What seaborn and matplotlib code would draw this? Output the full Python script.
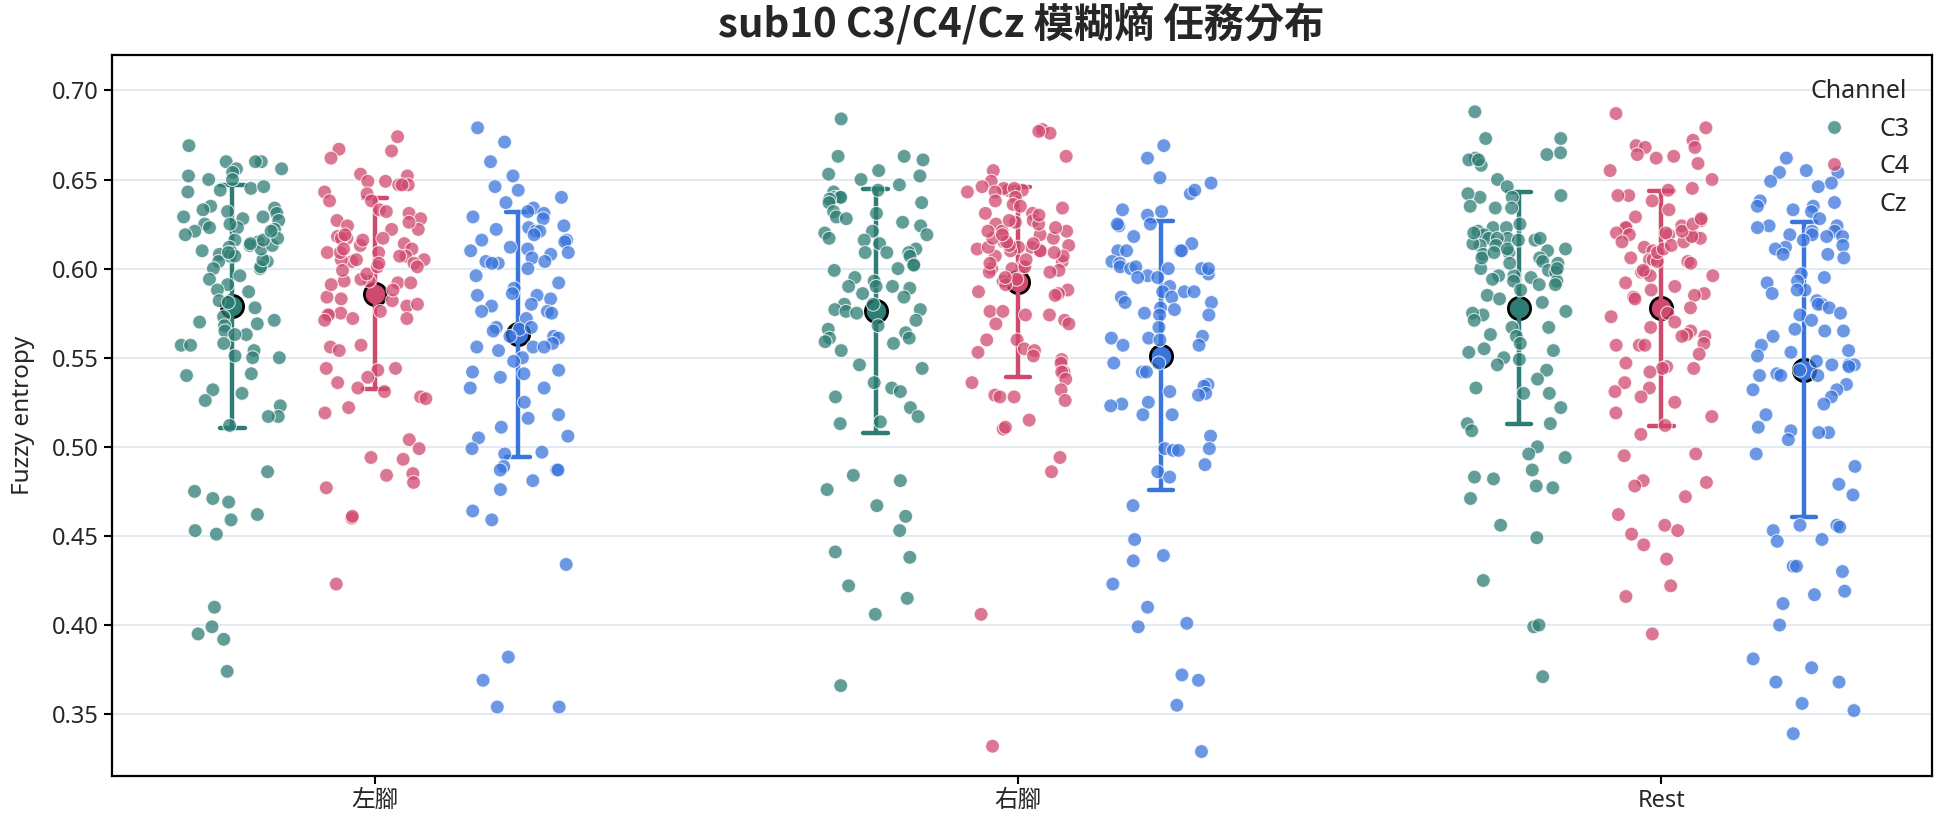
import numpy as np
import pandas as pd
import matplotlib
matplotlib.use("Agg")
import matplotlib.pyplot as plt
import seaborn as sns

# ── data (second lines = points hidden in the dense cores) ──

tasks = ["左腳", "右腳", "Rest"]
channels = ["C3", "C4", "Cz"]
colors = ["#2e7d74", "#d04a6e", "#3a75db"]

left_c3 = [0.669, 0.660, 0.660, 0.660, 0.656, 0.656, 0.654, 0.652, 0.650, 0.650, 0.645, 0.646,
           0.644, 0.643, 0.635, 0.634, 0.633, 0.632, 0.631, 0.629, 0.628, 0.627, 0.625, 0.623,
           0.622, 0.621, 0.616, 0.615, 0.613, 0.612, 0.610, 0.609, 0.608, 0.607, 0.604, 0.604,
           0.600, 0.600, 0.596, 0.594, 0.591, 0.588, 0.587, 0.582, 0.581, 0.578, 0.573, 0.571,
           0.570, 0.569, 0.568, 0.565, 0.563, 0.563, 0.558, 0.557, 0.557, 0.554, 0.551, 0.550,
           0.550, 0.541, 0.540, 0.532, 0.530, 0.526, 0.523, 0.517, 0.517, 0.512, 0.486, 0.475,
           0.471, 0.469, 0.462, 0.459, 0.453, 0.451, 0.410, 0.399, 0.395, 0.392, 0.374,
           0.601, 0.605, 0.607, 0.609, 0.611, 0.613, 0.614, 0.616, 0.617, 0.619, 0.621, 0.623,
           0.625, 0.629]
left_c4 = [0.674, 0.667, 0.666, 0.662, 0.653, 0.652, 0.649, 0.649, 0.647, 0.647, 0.647, 0.643,
           0.642, 0.638, 0.638, 0.633, 0.632, 0.631, 0.628, 0.627, 0.624, 0.622, 0.618, 0.617,
           0.617, 0.617, 0.614, 0.611, 0.609, 0.609, 0.607, 0.605, 0.604, 0.605, 0.603, 0.601,
           0.593, 0.593, 0.592, 0.592, 0.583, 0.582, 0.579, 0.576, 0.575, 0.574, 0.572, 0.572,
           0.574, 0.571, 0.557, 0.556, 0.554, 0.544, 0.543, 0.544, 0.539, 0.536, 0.533, 0.531,
           0.528, 0.527, 0.522, 0.519, 0.504, 0.499, 0.494, 0.493, 0.485, 0.484, 0.480, 0.477,
           0.460, 0.461, 0.423,
           0.580, 0.584, 0.588, 0.591, 0.594, 0.597, 0.599, 0.601, 0.603, 0.605, 0.607, 0.609,
           0.611, 0.613, 0.616, 0.619, 0.622, 0.626]
left_cz = [0.679, 0.671, 0.660, 0.652, 0.646, 0.644, 0.640, 0.637, 0.634, 0.632, 0.631, 0.629,
           0.628, 0.624, 0.623, 0.622, 0.621, 0.621, 0.619, 0.616, 0.616, 0.615, 0.612, 0.611,
           0.610, 0.609, 0.608, 0.606, 0.604, 0.604, 0.603, 0.603, 0.600, 0.596, 0.592, 0.589,
           0.586, 0.585, 0.585, 0.583, 0.580, 0.579, 0.576, 0.576, 0.575, 0.572, 0.567, 0.566,
           0.567, 0.565, 0.562, 0.562, 0.561, 0.558, 0.556, 0.556, 0.554, 0.556, 0.550, 0.548,
           0.543, 0.542, 0.541, 0.539, 0.533, 0.533, 0.525, 0.518, 0.516, 0.511, 0.506, 0.505,
           0.499, 0.497, 0.496, 0.489, 0.487, 0.487, 0.487, 0.481, 0.476, 0.464, 0.459, 0.434,
           0.382, 0.369, 0.354, 0.354]
right_c3 = [0.684, 0.663, 0.663, 0.661, 0.655, 0.653, 0.652, 0.650, 0.647, 0.644, 0.643, 0.640,
            0.640, 0.640, 0.639, 0.637, 0.637, 0.632, 0.631, 0.629, 0.628, 0.626, 0.624, 0.621,
            0.620, 0.619, 0.617, 0.616, 0.614, 0.611, 0.609, 0.609, 0.609, 0.607, 0.602, 0.602,
            0.600, 0.599, 0.595, 0.593, 0.590, 0.589, 0.590, 0.590, 0.586, 0.584, 0.580, 0.580,
            0.577, 0.576, 0.577, 0.575, 0.571, 0.568, 0.566, 0.564, 0.561, 0.561, 0.559, 0.558,
            0.554, 0.546, 0.544, 0.536, 0.533, 0.531, 0.528, 0.522, 0.517, 0.513, 0.514, 0.484,
            0.481, 0.476, 0.467, 0.461, 0.453, 0.441, 0.438, 0.422, 0.415, 0.406, 0.366]
right_c4 = [0.678, 0.676, 0.677, 0.663, 0.655, 0.649, 0.646, 0.644, 0.644, 0.645, 0.645, 0.643,
            0.643, 0.640, 0.638, 0.636, 0.634, 0.631, 0.631, 0.627, 0.625, 0.626, 0.621, 0.621,
            0.619, 0.617, 0.615, 0.613, 0.612, 0.612, 0.610, 0.610, 0.610, 0.607, 0.604, 0.601,
            0.600, 0.600, 0.599, 0.598, 0.594, 0.593, 0.591, 0.588, 0.587, 0.586, 0.585, 0.576,
            0.576, 0.574, 0.574, 0.571, 0.569, 0.569, 0.560, 0.560, 0.555, 0.554, 0.553, 0.551,
            0.549, 0.547, 0.542, 0.542, 0.538, 0.536, 0.532, 0.529, 0.528, 0.528, 0.526, 0.515,
            0.510, 0.511, 0.494, 0.486, 0.406, 0.332,
            0.595, 0.598, 0.601, 0.603, 0.605, 0.607, 0.609, 0.611, 0.612, 0.613, 0.614, 0.615,
            0.617, 0.619, 0.621, 0.623, 0.625, 0.627, 0.630, 0.635]
right_cz = [0.669, 0.662, 0.651, 0.648, 0.642, 0.644, 0.633, 0.632, 0.630, 0.624, 0.625, 0.625,
            0.618, 0.614, 0.610, 0.610, 0.610, 0.610, 0.604, 0.603, 0.601, 0.597, 0.600, 0.600,
            0.601, 0.600, 0.600, 0.596, 0.595, 0.595, 0.590, 0.587, 0.587, 0.587, 0.584, 0.584,
            0.581, 0.581, 0.578, 0.577, 0.575, 0.574, 0.574, 0.567, 0.562, 0.561, 0.557, 0.557,
            0.561, 0.560, 0.547, 0.547, 0.542, 0.542, 0.535, 0.534, 0.531, 0.530, 0.529, 0.525,
            0.524, 0.518, 0.518, 0.523, 0.506, 0.499, 0.499, 0.498, 0.498, 0.490, 0.486, 0.483,
            0.467, 0.448, 0.439, 0.436, 0.423, 0.410, 0.401, 0.399, 0.369, 0.372, 0.355, 0.329]
rest_c3 = [0.688, 0.673, 0.673, 0.665, 0.662, 0.664, 0.661, 0.658, 0.661, 0.650, 0.646, 0.641,
           0.640, 0.640, 0.634, 0.642, 0.635, 0.634, 0.625, 0.623, 0.623, 0.621, 0.616, 0.617,
           0.619, 0.616, 0.617, 0.617, 0.613, 0.610, 0.613, 0.611, 0.609, 0.608, 0.606, 0.604,
           0.603, 0.600, 0.599, 0.598, 0.596, 0.596, 0.595, 0.594, 0.593, 0.591, 0.591, 0.593,
           0.588, 0.585, 0.583, 0.581, 0.576, 0.574, 0.575, 0.571, 0.567, 0.567, 0.563, 0.562,
           0.558, 0.554, 0.555, 0.553, 0.549, 0.550, 0.546, 0.543, 0.538, 0.533, 0.530, 0.530,
           0.522, 0.513, 0.513, 0.509, 0.500, 0.496, 0.494, 0.487, 0.483, 0.478, 0.482, 0.477,
           0.471, 0.456, 0.449, 0.425, 0.399, 0.400, 0.371,
           0.600, 0.603, 0.606, 0.609, 0.611, 0.614, 0.617, 0.620]
rest_c4 = [0.687, 0.679, 0.672, 0.669, 0.668, 0.668, 0.663, 0.664, 0.662, 0.659, 0.655, 0.650,
           0.644, 0.641, 0.645, 0.641, 0.638, 0.633, 0.629, 0.627, 0.624, 0.623, 0.623, 0.620,
           0.619, 0.619, 0.620, 0.618, 0.617, 0.615, 0.612, 0.610, 0.605, 0.605, 0.604, 0.604,
           0.598, 0.598, 0.596, 0.592, 0.590, 0.588, 0.586, 0.585, 0.584, 0.583, 0.578, 0.575,
           0.573, 0.570, 0.567, 0.565, 0.563, 0.562, 0.562, 0.558, 0.557, 0.557, 0.557, 0.552,
           0.547, 0.545, 0.544, 0.544, 0.542, 0.536, 0.533, 0.531, 0.528, 0.525, 0.519, 0.517,
           0.512, 0.507, 0.496, 0.495, 0.481, 0.480, 0.478, 0.472, 0.462, 0.456, 0.453, 0.451,
           0.445, 0.437, 0.422, 0.416, 0.395,
           0.596, 0.599, 0.603, 0.606, 0.609, 0.611, 0.613, 0.615, 0.618, 0.621, 0.625, 0.628]
rest_cz = [0.662, 0.654, 0.655, 0.654, 0.649, 0.648, 0.646, 0.638, 0.635, 0.635, 0.633, 0.632,
           0.628, 0.624, 0.623, 0.621, 0.624, 0.621, 0.619, 0.619, 0.618, 0.618, 0.616, 0.613,
           0.612, 0.611, 0.608, 0.608, 0.606, 0.597, 0.595, 0.592, 0.588, 0.593, 0.588, 0.586,
           0.582, 0.580, 0.580, 0.578, 0.574, 0.575, 0.571, 0.565, 0.566, 0.565, 0.562, 0.557,
           0.554, 0.553, 0.551, 0.548, 0.546, 0.546, 0.546, 0.545, 0.543, 0.541, 0.540, 0.540,
           0.540, 0.535, 0.532, 0.532, 0.528, 0.524, 0.518, 0.511, 0.508, 0.508, 0.509, 0.504,
           0.496, 0.489, 0.479, 0.473, 0.456, 0.456, 0.455, 0.453, 0.448, 0.447, 0.433, 0.430,
           0.433, 0.419, 0.417, 0.412, 0.400, 0.381, 0.376, 0.368, 0.368, 0.356, 0.352, 0.339]

groups = {
    ("左腳", "C3"): left_c3, ("左腳", "C4"): left_c4, ("左腳", "Cz"): left_cz,
    ("右腳", "C3"): right_c3, ("右腳", "C4"): right_c4, ("右腳", "Cz"): right_cz,
    ("Rest", "C3"): rest_c3, ("Rest", "C4"): rest_c4, ("Rest", "Cz"): rest_cz,
}

# ── long table, channel positions shifted around each task ────────────────────

DODGE = 0.222
rows = []
for ti, task in enumerate(tasks):
    for ci, ch in enumerate(channels):
        for v in groups[(task, ch)]:
            rows.append({"task": task, "channel": ch,
                         "pos": round(ti + (ci - 1) * DODGE, 3), "value": v})
df = pd.DataFrame(rows)

# ── plot ──────────────────────────────────────────────────────────────────────

sns.set_theme(style="white")
plt.rcParams["font.family"] = ["Noto Sans", "Noto Sans CJK TC", "DejaVu Sans"]

fig = plt.figure(figsize=(19.44, 8.27), dpi=100)
ax = fig.add_axes([0.0574, 0.0617, 0.9362, 0.8723])
ax.grid(axis="y", color="#dce5ef", lw=1.2)
ax.set_axisbelow(True)

np.random.seed(7)
sns.stripplot(data=df, x="pos", y="value", hue="channel", hue_order=channels,
              palette=colors, native_scale=True, jitter=0.36, size=10, alpha=0.75,
              edgecolor="white", linewidth=0.8, ax=ax)

# mean ± SD on top of the strips
sns.pointplot(data=df, x="pos", y="value", hue="channel", hue_order=channels,
              palette=colors, native_scale=True, errorbar="sd", capsize=0.17,
              linestyle="none", markers="o", markersize=16,
              markeredgecolor="black", markeredgewidth=2,
              err_kws={"linewidth": 3.2, "linestyle": "-"}, legend=False, ax=ax)

ax.set_xticks(range(len(tasks)))
ax.set_xticklabels(tasks, fontsize=17)
ax.set_xlim(-0.41, 2.42)
ax.set_ylim(0.3153, 0.7201)
ax.set_yticks([0.35, 0.40, 0.45, 0.50, 0.55, 0.60, 0.65, 0.70])
ax.set_yticklabels([f"{t:.2f}" for t in ax.get_yticks()], fontsize=17)
ax.tick_params(axis="y", left=True, length=6, width=1.5, color="black")
ax.tick_params(axis="x", bottom=True, length=6, width=1.5, color="black")
ax.set_xlabel("")
ax.set_ylabel("Fuzzy entropy", fontsize=17.5, labelpad=12)

for sp in ax.spines.values():
    sp.set_color("black")
    sp.set_linewidth(1.6)

ax.set_title("sub10 C3/C4/Cz 模糊熵 任務分布", fontsize=29, fontweight="bold", pad=12,
             family=["Noto Sans CJK TC", "DejaVu Sans"])

sns.move_legend(ax, "upper right", title="Channel", frameon=False,
                fontsize=18, title_fontsize=18, labelspacing=0.5,
                bbox_to_anchor=(1.0, 0.997))

fig.savefig("out.png", dpi=100)
